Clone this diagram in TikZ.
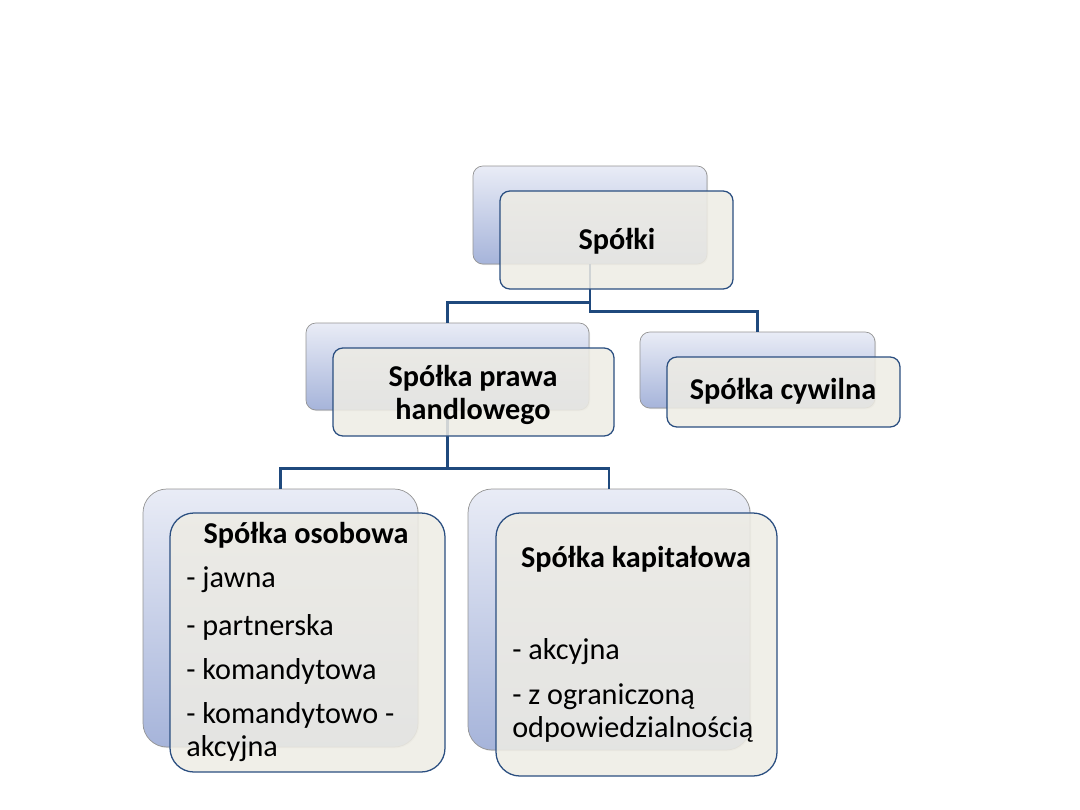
\documentclass[tikz,border=0pt]{standalone}
\usepackage{fontspec}
\setmainfont{Carlito}
\usetikzlibrary{positioning,fit,shadows}

\definecolor{backtop}{RGB}{233,236,246}
\definecolor{backbot}{RGB}{166,180,218}
\definecolor{frontfill}{RGB}{238,236,228}
\definecolor{frontline}{RGB}{42,78,128}
\definecolor{connline}{RGB}{31,73,125}

\tikzset{
  backbox/.style={draw=black!42, line width=0.5pt, rounded corners=#1,
    top color=backtop, bottom color=backbot, inner sep=0pt,
    drop shadow={opacity=0.22, shadow xshift=0.8pt, shadow yshift=-0.8pt}},
  frontbox/.style={draw=frontline, line width=0.9pt, rounded corners=#1,
    fill=frontfill, fill opacity=0.86, inner sep=0pt},
  conn/.style={draw=connline, line width=2pt},
  listtxt/.style={anchor=west, inner sep=0pt, font=\fontsize{21.5}{23.5}\selectfont},
  titletxt/.style={inner sep=0pt, align=center, font=\fontsize{21.5}{23.5}\selectfont\bfseries}
}

\begin{document}
\begin{tikzpicture}[x=0.025cm, y=-0.025cm]
  \useasboundingbox (0,0) rectangle (1080,810);
  % back boxes
  \node[backbox=7pt, fit={(473,166) (707,264)}] (spolkiB) {};
  \node[backbox=7pt, fit={(306,323) (589,410)}] (sphB) {};
  \node[backbox=7pt, fit={(640,332) (875,408)}] (cywB) {};
  \node[backbox=17pt, fit={(143,489) (418,747)}] (osobB) {};
  \node[backbox=17pt, fit={(468,489) (750,750)}] (kapB) {};
  % connectors
  \draw[conn] (spolkiB.south) -- ++(0,38) -| (sphB.north);
  \draw[conn] (spolkiB.south) -- ++(0,47) -| (cywB.north);
  \draw[conn] (sphB.south) -- ++(0,58) -| (osobB.north);
  \draw[conn] (sphB.south) -- ++(0,58) -| (kapB.north);
  % front boxes
  \node[frontbox=7pt, fit={(500,191) (733,289)}] (spolki) {};
  \node[frontbox=7pt, fit={(333,348) (614,436)}] (sph) {};
  \node[frontbox=7pt, fit={(667,357) (900,427)}] (cyw) {};
  \node[frontbox=17pt, fit={(170,513) (445,772)}] (osob) {};
  \node[frontbox=17pt, fit={(496,513) (777,776)}] (kap) {};
  % texts
  \node[titletxt] (spolkiT) at (617,241) {Spółki};
  \node[titletxt] (sphT) at (473,395) {Spółka prawa\\handlowego};
  \node[titletxt] (cywT) at (783,391) {Spółka cywilna};
  \node[titletxt] (osobT) at (306,535) {Spółka osobowa};
  \foreach \t/\y [count=\i] in {{- jawna}/580, {- partnerska}/627, {- komandytowa}/671,
      {- komandytowo -}/715, {akcyjna}/749}
    \node[listtxt] (osobL\i) at (186,\y) {\t};
  \node[titletxt] (kapT) at (636,559) {Spółka kapitałowa};
  \foreach \t/\y [count=\i] in {{- akcyjna}/652, {- z ograniczoną}/697, {odpowiedzialnością}/729}
    \node[listtxt] (kapL\i) at (512,\y) {\t};
\end{tikzpicture}
\end{document}
